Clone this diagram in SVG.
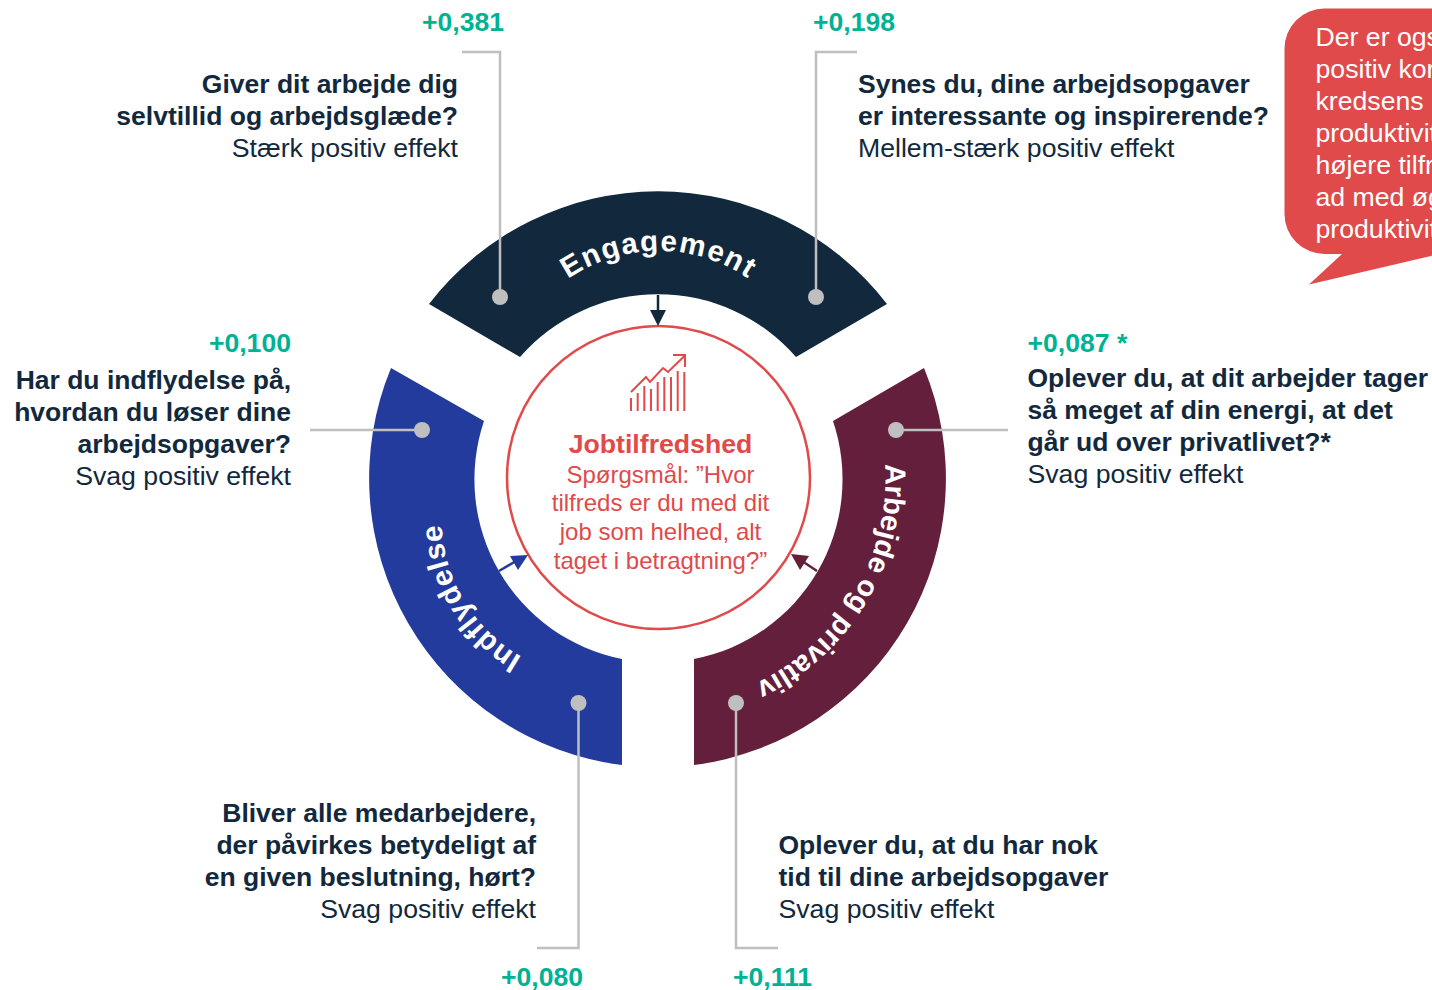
<svg xmlns="http://www.w3.org/2000/svg" width="1432" height="990" viewBox="0 0 1432 990">
<style>
text{font-family:"Liberation Sans",Arial,sans-serif}
.q{font-size:26.5px;font-weight:700;fill:#12293d}
.e{font-size:26.67px;fill:#12293d}
.n{font-size:26.6px;font-weight:700;fill:#00b294}
.end{text-anchor:end}
.seg{font-size:29.500px;font-weight:700;fill:#fff}
.c{font-size:24px;fill:#e04a4a;text-anchor:middle}
.call{font-size:26.67px;fill:#fff}
.lead{fill:none;stroke:#bfbfbf;stroke-width:2.5}
.dot{fill:#bfbfbf}
.ic{fill:none;stroke:#e04a4a;stroke-width:2}
</style>
<defs>
<path id="pe" d="M568 279A160 160 0 0 1 790 320"/>
<path id="pi" d="M522 657A160 160 0 0 1 444 490"/>
<path id="pa" d="M885 464A227 227 0 0 1 740 690"/>
</defs>
<g id="engagement"><path d="M429 304A289 289 0 0 1 887 304L796 357A183 183 0 0 0 520 357Z" fill="#12293d"/><text class="seg" letter-spacing="1.5"><textPath href="#pe">Engagement</textPath></text></g>
<g id="indflydelse"><path d="M391 368A289 289 0 0 0 622 765V659A183 183 0 0 1 484 421Z" fill="#233b9c"/><text class="seg" letter-spacing="0.7"><textPath href="#pi">Indflydelse</textPath></text></g>
<g id="arbejde"><path d="M924 368A289 289 0 0 1 694 765V659A183 183 0 0 0 833 421Z" fill="#631f3b"/><text class="seg" style="font-size:29px"><textPath href="#pa">Arbejde og privatliv</textPath></text></g>
<g id="jobtilfredshed"><circle cx="658.5" cy="477.5" r="151.5" fill="#fff" stroke="#e04a4a" stroke-width="2.5"/>
<path class="ic" d="M631 411V398M637.700 411V393M644.300 411V386M651 411V389M657.700 411V382M664.300 411V377M671 411V377M677.700 411V371M684.300 411V372M631 392L646 377L650 382L663 368L668 372L684.500 356M673 355H685V367"/>
<text x="660.500" y="453" font-size="26.67" font-weight="700" fill="#e04a4a" text-anchor="middle">Jobtilfredshed</text>
<text class="c" x="660.500" y="483">Spørgsmål: ”Hvor</text><text class="c" x="660.500" y="511">tilfreds er du med dit</text><text class="c" x="660.500" y="540">job som helhed, alt</text><text class="c" x="660.500" y="569">taget i betragtning?”</text></g>
<g id="connectors">
<path d="M658 295V312" fill="none" stroke="#12293d" stroke-width="2.5"/><path d="M650 310H666L658 326Z" fill="#12293d"/>
<path d="M499 571L516 561" fill="none" stroke="#233b9c" stroke-width="2.5"/><path d="M510 556L528 555L518 570Z" fill="#233b9c"/>
<path d="M817 571L802 561" fill="none" stroke="#631f3b" stroke-width="2.5"/><path d="M791 554L809 556L800 570Z" fill="#631f3b"/>
<path class="lead" d="M462 52H500V297"/><path class="lead" d="M857 52H816V297"/><path class="lead" d="M310 430H422"/><path class="lead" d="M896 430H1008"/><path class="lead" d="M578.500 703V948H537"/><path class="lead" d="M736 703V948H778"/>
<circle class="dot" cx="500" cy="297" r="8"/><circle class="dot" cx="816" cy="297" r="8"/><circle class="dot" cx="422" cy="430" r="8"/><circle class="dot" cx="578.500" cy="703" r="8"/><circle class="dot" cx="896" cy="430" r="8"/><circle class="dot" cx="736" cy="703" r="8"/>
</g>
<g id="q1"><text class="n" x="422" y="31">+0,381</text><text class="q end" x="458" y="93">Giver dit arbejde dig</text><text class="q end" x="458" y="125">selvtillid og arbejdsglæde?</text><text class="e end" x="458" y="157">Stærk positiv effekt</text></g>
<g id="q2"><text class="n" x="813" y="31">+0,198</text><text class="q" x="858" y="93">Synes du, dine arbejdsopgaver</text><text class="q" x="858" y="125">er interessante og inspirerende?</text><text class="e" x="858" y="157">Mellem-stærk positiv effekt</text></g>
<g id="q3"><text class="n end" x="291" y="352">+0,100</text><text class="q end" x="291" y="389">Har du indflydelse på,</text><text class="q end" x="291" y="421">hvordan du løser dine</text><text class="q end" x="291" y="453">arbejdsopgaver?</text><text class="e end" x="291" y="485">Svag positiv effekt</text></g>
<g id="q4"><text class="n" x="1027.500" y="352">+0,087 *</text><text class="q" x="1027.500" y="387">Oplever du, at dit arbejder tager</text><text class="q" x="1027.500" y="419">så meget af din energi, at det</text><text class="q" x="1027.500" y="451">går ud over privatlivet?*</text><text class="e" x="1027.500" y="483">Svag positiv effekt</text></g>
<g id="q5"><text class="q end" x="536" y="822">Bliver alle medarbejdere,</text><text class="q end" x="536" y="854">der påvirkes betydeligt af</text><text class="q end" x="536" y="886">en given beslutning, hørt?</text><text class="e end" x="536" y="918">Svag positiv effekt</text><text class="n" x="501" y="986">+0,080</text></g>
<g id="q6"><text class="q" x="778.500" y="854">Oplever du, at du har nok</text><text class="q" x="778.500" y="886">tid til dine arbejdsopgaver</text><text class="e" x="778.500" y="918">Svag positiv effekt</text><text class="n" x="733" y="986">+0,111</text></g>
<g id="callout"><path d="M1325 8.500H1440V254L1309 284.500L1342 254H1325A40 40 0 0 1 1284.500 214V49A40 40 0 0 1 1325 8.500Z" fill="#e04a4a"/>
<text class="call" x="1315.500" y="46">Der er ogs</text><text class="call" x="1315.500" y="78">positiv kor</text><text class="call" x="1315.500" y="110">kredsens</text><text class="call" x="1315.500" y="142">produktivit</text><text class="call" x="1315.500" y="174">højere tilfr</text><text class="call" x="1315.500" y="206">ad med øg</text><text class="call" x="1315.500" y="238">produktivit</text></g>
</svg>
